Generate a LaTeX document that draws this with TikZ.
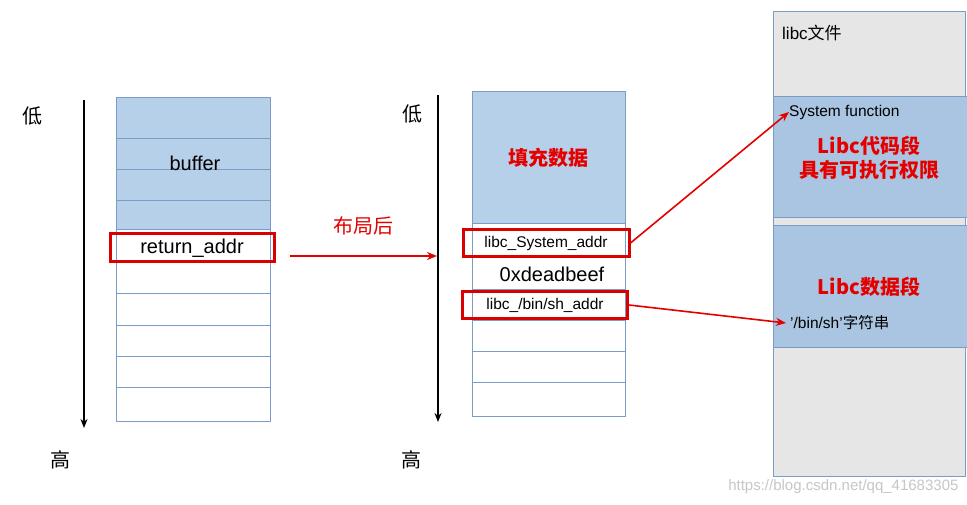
\documentclass[tikz,border=0pt]{standalone}
\usepackage{fontspec}
\usetikzlibrary{arrows.meta}
\setmainfont{Liberation Sans}
\newfontfamily\cjk{Noto Sans CJK SC}
\begin{document}
\begin{tikzpicture}[x=1pt,y=-1pt,
  cell/.style={draw=lineblue,line width=1pt},
  redbox/.style={draw=red!85!black,line width=3pt},
  redarrow/.style={draw=red!90!black,line width=1.6pt,-{Stealth[length=10pt,width=8pt]}},
  axis/.style={draw=black,line width=1.8pt,-{Stealth[length=9pt,width=7pt]}},
  lbl/.style={font=\fontsize{20}{20}\selectfont\cjk},
  redtxt/.style={text=red!90!black,font=\fontsize{20}{24}\selectfont\bfseries\cjk,align=center}]
\definecolor{lineblue}{HTML}{7A9CC6}
\definecolor{fillblue}{HTML}{B7D0EA}
\definecolor{segblue}{HTML}{A9C5E1}
\definecolor{libgray}{HTML}{E7E6E6}
\useasboundingbox (0,0) rectangle (967,505);
\fill[white] (0,0) rectangle (967,505);
% left stack
\fill[fillblue] (116,98) rectangle (270,230);
\foreach \y in {139,170,201,230,263,294,325,356,387} \draw[cell] (116,\y) -- (270,\y);
\draw[cell] (116,98) rectangle (270,421);
\node (buf) at (195,163) {\fontsize{20}{20}\selectfont buffer};
\node[redbox,minimum width=164pt,minimum height=28pt,inner sep=0pt] (ret) at (192,248) {\fontsize{20}{20}\selectfont return\_addr};
\draw[axis] (84,100) coordinate (a1s) -- (84,428) coordinate (a1e);
\node[lbl] (lo1) at (33,116) {低};
\node[lbl] (hi1) at (60,460) {高};
% middle stack
\fill[fillblue] (472,92) rectangle (625,224);
\foreach \y in {224,258,290,320,351,382} \draw[cell] (472,\y) -- (625,\y);
\draw[cell] (472,92) rectangle (625,416);
\node[redtxt] (fill) at (548,158) {填充数据};
\node[redbox,minimum width=166pt,minimum height=27pt,inner sep=0pt] (sys) at (546,243) {\fontsize{15.5}{16}\selectfont libc\_System\_addr};
\node (dead) at (552,274) {\fontsize{20}{20}\selectfont 0xdeadbeef};
\node[redbox,minimum width=165pt,minimum height=26pt,inner sep=0pt] (sh) at (545,305) {\fontsize{15.5}{16}\selectfont libc\_/bin/sh\_addr};
\draw[axis] (438,95) coordinate (a2s) -- (438,422) coordinate (a2e);
\node[lbl] (lo2) at (412,114) {低};
\node[lbl] (hi2) at (411,460) {高};
\coordinate (arrEnd) at (437,256);
\coordinate (arrStart) at (290,256);
\draw[redarrow] (arrStart) -- (arrEnd);
\node[text=red!90!black,font=\fontsize{20}{20}\selectfont\cjk] (layout) at (363,226) {布局后};
% libc file
\fill[libgray,draw=lineblue,line width=1pt] (773,12) rectangle (965,476);
\node[anchor=west,inner sep=0pt] (libc) at (782,33) {\fontsize{17}{17}\selectfont libc{\cjk 文件}};
\node[fill=segblue,draw=lineblue,line width=1pt,minimum width=194pt,minimum height=121pt,inner sep=0pt] (code) at (870,157.5) {};
\node[fill=segblue,draw=lineblue,line width=1pt,minimum width=194pt,minimum height=121pt,inner sep=0pt] (data) at (870,286.5) {};
\node[anchor=west,inner sep=0pt] (sysf) at (789,112) {\fontsize{15.5}{16}\selectfont System function};
\node[redtxt] (codet) at (869,158) {Libc代码段\\具有可执行权限};
\node[redtxt] (datat) at (869,287) {Libc数据段};
\node[anchor=west,inner sep=0pt] (shstr) at (790,323) {\fontsize{15.5}{16}\selectfont '/bin/sh'{\cjk 字符串}};
\draw[redarrow] (sys.east) -- (sysf.west);
\draw[redarrow] (sh.east) -- ([xshift=-4pt]shstr.west);
\node[text=black!22,anchor=east] (wm) at (962,487) {\fontsize{15}{15}\selectfont https://blog.csdn.net/qq\_41683305};
\end{tikzpicture}
\end{document}
